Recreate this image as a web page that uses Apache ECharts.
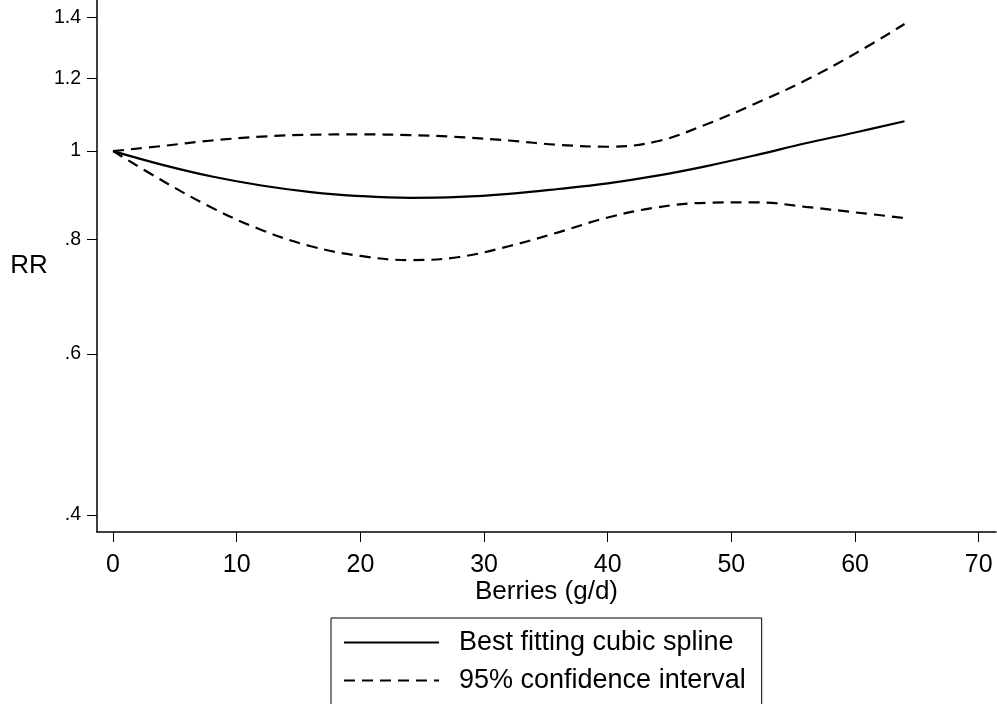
<!DOCTYPE html>
<html>
<head>
<meta charset="utf-8">
<script src="https://cdn.jsdelivr.net/npm/echarts@6/dist/echarts.min.js"></script>
<style>
html,body{margin:0;padding:0;background:#fff;}
#chart{width:997px;height:704px;}
</style>
</head>
<body>
<div id="chart"></div>
<script>
// Berries intake (g/d)
var berries = [0, 4, 8, 12, 16, 20, 24, 28, 32, 36, 40, 44, 48, 52, 56, 60, 64];
// Relative risk estimates
var rrSpline = [1.0, 0.966, 0.938, 0.917, 0.902, 0.893, 0.889, 0.891, 0.898, 0.909, 0.922, 0.940, 0.963, 0.990, 1.020, 1.048, 1.078];
var rrUpper  = [1.0, 1.013, 1.027, 1.037, 1.042, 1.043, 1.041, 1.036, 1.027, 1.016, 1.011, 1.025, 1.070, 1.128, 1.195, 1.278, 1.377];
var rrLower  = [1.0, 0.928, 0.867, 0.820, 0.787, 0.768, 0.760, 0.766, 0.787, 0.815, 0.846, 0.868, 0.878, 0.879, 0.869, 0.857, 0.845];
// Axis ticks
var xTicks = [0, 10, 20, 30, 40, 50, 60, 70];
var yTickValues = [0.4, 0.6, 0.8, 1, 1.2, 1.4];
var yTickLabels = ['.4', '.6', '.8', '1', '1.2', '1.4'];
var seriesNames = ['Best fitting cubic spline', '95% confidence interval'];

function toLogPairs(ys) {
  return berries.map(function (x, i) { return [x, Math.log(ys[i])]; });
}
var yLogTicks = yTickValues.map(function (v) { return Math.log(v); });

var FONT = '"Liberation Sans", Arial, Helvetica, sans-serif';
var chart = echarts.init(document.getElementById('chart'), null, {renderer: 'canvas'});
chart.setOption({
  animation: false,
  backgroundColor: '#fff',
  grid: {left: 97, right: 1, top: 0, bottom: 172, containLabel: false},
  xAxis: {
    type: 'value',
    min: -1.3, max: 71.4,
    name: 'Berries (g/d)',
    nameLocation: 'middle',
    nameGap: 47,
    nameMoveOverlap: false,
    nameTextStyle: {fontFamily: FONT, fontSize: 26, color: '#000'},
    axisLine: {show: true, onZero: false, lineStyle: {color: '#000', width: 1.5}},
    axisTick: {show: true, inside: false, length: 10, customValues: xTicks, lineStyle: {color: '#000', width: 1}},
    axisLabel: {show: true, customValues: xTicks, margin: 21, fontFamily: FONT, fontSize: 25, color: '#000'},
    splitLine: {show: false}
  },
  yAxis: {
    type: 'value',
    min: -0.959, max: 0.3804,
    name: 'RR',
    nameLocation: 'middle',
    nameRotate: 0,
    nameGap: 68,
    nameMoveOverlap: false,
    nameTextStyle: {fontFamily: FONT, fontSize: 26, color: '#000', align: 'center'},
    axisLine: {show: true, onZero: false, lineStyle: {color: '#000', width: 1.5}},
    axisTick: {show: true, inside: false, length: 10, customValues: yLogTicks, lineStyle: {color: '#000', width: 1}},
    axisLabel: {
      show: true, customValues: yLogTicks, margin: 16,
      fontFamily: FONT, fontSize: 19.5, color: '#000',
      formatter: function (v) {
        for (var i = 0; i < yLogTicks.length; i++) {
          if (Math.abs(yLogTicks[i] - v) < 1e-6) return yTickLabels[i];
        }
        return '';
      }
    },
    splitLine: {show: false}
  },
  legend: {
    orient: 'vertical',
    left: 331, top: 618,
    height: 120,
    data: seriesNames,
    itemWidth: 95, itemHeight: 14, itemGap: 11,
    padding: [11, 16, 20, 12],
    borderColor: '#000', borderWidth: 1, borderRadius: 0,
    itemStyle: {opacity: 0},
    textStyle: {fontFamily: FONT, fontSize: 27, color: '#000', padding: [0, 0, 0, 15]},
    selectedMode: false
  },
  series: [
    {
      name: seriesNames[0], type: 'line', data: toLogPairs(rrSpline),
      smooth: 0.4, symbol: 'none', silent: true,
      lineStyle: {color: '#000', width: 2.2, type: 'solid'},
      itemStyle: {color: '#000'}
    },
    {
      name: seriesNames[1], type: 'line', data: toLogPairs(rrUpper),
      smooth: 0.4, symbol: 'none', silent: true,
      lineStyle: {color: '#000', width: 2.2, type: [11, 7]},
      itemStyle: {color: '#000'}
    },
    {
      name: seriesNames[1], type: 'line', data: toLogPairs(rrLower),
      smooth: 0.4, symbol: 'none', silent: true,
      lineStyle: {color: '#000', width: 2.2, type: [11, 7]},
      itemStyle: {color: '#000'}
    }
  ]
});
</script>
</body>
</html>
